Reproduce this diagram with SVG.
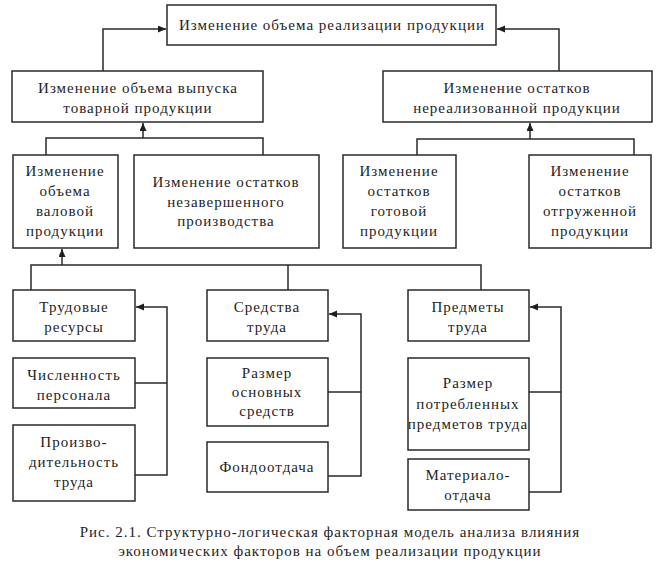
<svg xmlns="http://www.w3.org/2000/svg" width="660" height="564" viewBox="0 0 660 564">
<style>
.box{fill:#fff;stroke:#2a2a2a;stroke-width:1.5}
.t{font-family:"Liberation Serif","Times New Roman",serif;font-size:15px;letter-spacing:1px;fill:#1e1e1e;text-anchor:middle}
.c{fill:none;stroke:#2a2a2a;stroke-width:1.5}
</style>
<defs>
<marker id="ah" markerUnits="userSpaceOnUse" markerWidth="9" markerHeight="8" refX="8" refY="3.5" orient="auto">
<path d="M0,0 L8,3.5 L0,7 z" fill="#1e1e1e"/>
</marker>
</defs>
<rect width="660" height="564" fill="#fff"/>
<g id="connectors">
<path class="c" d="M103,71 V29 H166" marker-end="url(#ah)"/>
<path class="c" d="M559,71 V29 H497" marker-end="url(#ah)"/>
<path class="c" d="M143,138 V123" marker-end="url(#ah)"/>
<path class="c" d="M46,155 V138 H263 V155"/>
<path class="c" d="M530,139 V123" marker-end="url(#ah)"/>
<path class="c" d="M417,155 V139 H634 V155"/>
<path class="c" d="M62,265 V249" marker-end="url(#ah)"/>
<path class="c" d="M31,290 V265 H481 V290"/>
<path class="c" d="M288,265 V290"/>
<path class="c" d="M135,475 H167 V307 H136" marker-end="url(#ah)"/>
<path class="c" d="M135,383 H167"/>
<path class="c" d="M328,476 H361 V314 H329" marker-end="url(#ah)"/>
<path class="c" d="M328,392 H361"/>
<path class="c" d="M529,492 H561 V307 H530" marker-end="url(#ah)"/>
<path class="c" d="M529,392 H561"/>
</g>
<g id="n-top"><rect class="box" x="167" y="5" width="329" height="40"/><text class="t" x="332" y="30">Изменение объема реализации продукции</text></g>
<g id="n-vypusk"><rect class="box" x="12" y="71" width="251" height="51"/><text class="t" x="138" y="93">Изменение объема выпуска</text><text class="t" x="138" y="113">товарной продукции</text></g>
<g id="n-nereal"><rect class="box" x="383" y="71" width="269" height="51"/><text class="t" x="517" y="93">Изменение остатков</text><text class="t" x="517" y="113">нереализованной продукции</text></g>
<g id="n-valovoy"><rect class="box" x="13" y="155" width="105" height="93"/><text class="t" x="65" y="176">Изменение</text><text class="t" x="65" y="196">объема</text><text class="t" x="65" y="216">валовой</text><text class="t" x="65" y="236">продукции</text></g>
<g id="n-nezav"><rect class="box" x="134" y="155" width="185" height="93"/><text class="t" x="226" y="187">Изменение остатков</text><text class="t" x="226" y="207">незавершенного</text><text class="t" x="226" y="226">производства</text></g>
<g id="n-gotov"><rect class="box" x="343" y="155" width="113" height="93"/><text class="t" x="399" y="176">Изменение</text><text class="t" x="399" y="196">остатков</text><text class="t" x="399" y="216">готовой</text><text class="t" x="399" y="236">продукции</text></g>
<g id="n-otgruzh"><rect class="box" x="529" y="155" width="122" height="93"/><text class="t" x="590" y="176">Изменение</text><text class="t" x="590" y="196">остатков</text><text class="t" x="590" y="216">отгруженной</text><text class="t" x="590" y="236">продукции</text></g>
<g id="n-trud-res"><rect class="box" x="13" y="290" width="122" height="51"/><text class="t" x="74" y="312">Трудовые</text><text class="t" x="74" y="332">ресурсы</text></g>
<g id="n-chisl"><rect class="box" x="13" y="358" width="122" height="50"/><text class="t" x="74" y="380">Численность</text><text class="t" x="74" y="400">персонала</text></g>
<g id="n-proizv"><rect class="box" x="13" y="425" width="122" height="76"/><text class="t" x="74" y="447">Произво-</text><text class="t" x="74" y="467">дительность</text><text class="t" x="74" y="487">труда</text></g>
<g id="n-sredstva"><rect class="box" x="207" y="290" width="121" height="51"/><text class="t" x="267" y="312">Средства</text><text class="t" x="267" y="332">труда</text></g>
<g id="n-osn"><rect class="box" x="207" y="358" width="121" height="68"/><text class="t" x="267" y="378">Размер</text><text class="t" x="267" y="397">основных</text><text class="t" x="267" y="416">средств</text></g>
<g id="n-fondo"><rect class="box" x="207" y="442" width="121" height="50"/><text class="t" x="267" y="472">Фондоотдача</text></g>
<g id="n-predmety"><rect class="box" x="408" y="290" width="121" height="51"/><text class="t" x="468" y="312">Предметы</text><text class="t" x="468" y="332">труда</text></g>
<g id="n-potr"><rect class="box" x="408" y="358" width="121" height="92"/><text class="t" x="468" y="388">Размер</text><text class="t" x="468" y="409">потребленных</text><text class="t" x="468" y="429">предметов труда</text></g>
<g id="n-mat"><rect class="box" x="408" y="459" width="121" height="51"/><text class="t" x="468" y="480">Материало-</text><text class="t" x="468" y="500">отдача</text></g>
<g id="caption"><text class="t" x="330" y="537">Рис. 2.1. Структурно-логическая факторная модель анализа влияния</text><text class="t" x="330" y="556">экономических факторов на объем реализации продукции</text></g>
</svg>
